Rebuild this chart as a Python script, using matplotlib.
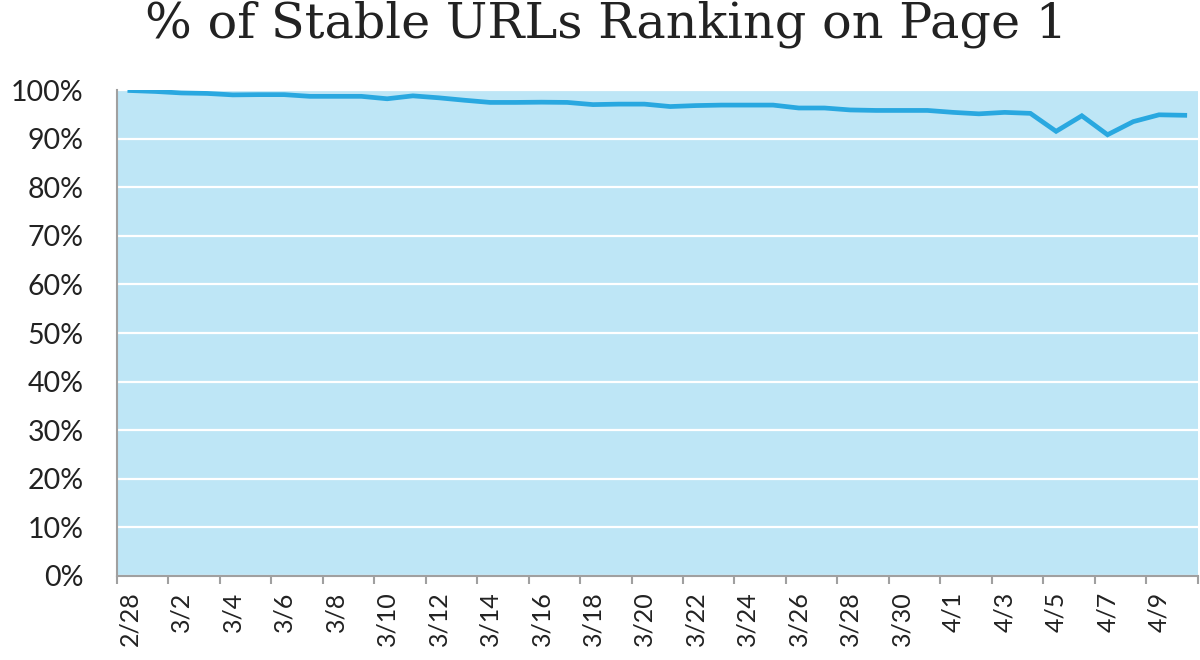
import matplotlib
matplotlib.use("Agg")
from matplotlib import pyplot as plt
from matplotlib.ticker import FixedLocator, FuncFormatter
import numpy as np
import pandas as pd

# one category per day, 2/28 .. 4/10
DATES = [f"{d.month}/{d.day}" for d in pd.date_range("2015-02-28", "2015-04-10")]
STABLE_PCT = [99.9, 99.7, 99.4, 99.3, 99.0, 99.05, 99.05, 98.7, 98.7, 98.7,
              98.2, 98.8, 98.4, 97.9, 97.45, 97.45, 97.5, 97.45, 97.0, 97.1,
              97.1, 96.6, 96.8, 96.9, 96.9, 96.9, 96.3, 96.3, 95.9, 95.8,
              95.8, 95.8, 95.4, 95.1, 95.4, 95.2, 91.5, 94.7, 90.8, 93.5,
              94.9, 94.8]
Y_TICKS = list(range(0, 101, 10))

LINE_COLOR = "#29a8e0"
BG_COLOR = "#bee6f6"
TEXT_COLOR = "#222222"

fig = plt.figure(figsize=(12, 6.6), dpi=100)
ax = fig.add_axes([0.0975, 0.1273, 0.9005, 0.7363])
ax.set_facecolor(BG_COLOR)

x = np.arange(len(DATES))
ax.plot(x, STABLE_PCT, color=LINE_COLOR, lw=3.4, solid_joinstyle="miter", zorder=3)

ax.set_xlim(-0.5, len(DATES) - 0.5)
ax.set_ylim(0, 100)

# y grid
ax.set_yticks(Y_TICKS)
ax.yaxis.set_major_formatter(FuncFormatter(lambda v, p: f"{int(v)}%"))
ax.grid(axis="y", color="white", lw=1.6, zorder=1)
ax.tick_params(axis="y", length=0, pad=24, labelsize=20.5, labelcolor=TEXT_COLOR)
for lab in ax.get_yticklabels():
    lab.set_fontfamily(["Lato", "DejaVu Sans"])

# x: labels every other day, ticks on category boundaries
ax.set_xticks(x[::2])
ax.set_xticklabels(DATES[::2], rotation=90, fontsize=18, color=TEXT_COLOR,
                   family=["Lato", "DejaVu Sans"])
ax.tick_params(axis="x", which="major", length=0, pad=11)
ax.xaxis.set_minor_locator(FixedLocator(np.arange(-0.5, len(DATES), 2)))
ax.tick_params(axis="x", which="minor", length=6, width=1.5, color="#a0a0a0")

for s in ["top", "right"]:
    ax.spines[s].set_visible(False)
for s in ["left", "bottom"]:
    ax.spines[s].set_color("#a0a0a0")
    ax.spines[s].set_linewidth(1.5)

fig.text(0.505, 0.963, "% of Stable URLs Ranking on Page 1", ha="center", va="center",
         fontsize=35.5, color=TEXT_COLOR, family=["DejaVu Serif"])

fig.savefig("out.png", dpi=100)
